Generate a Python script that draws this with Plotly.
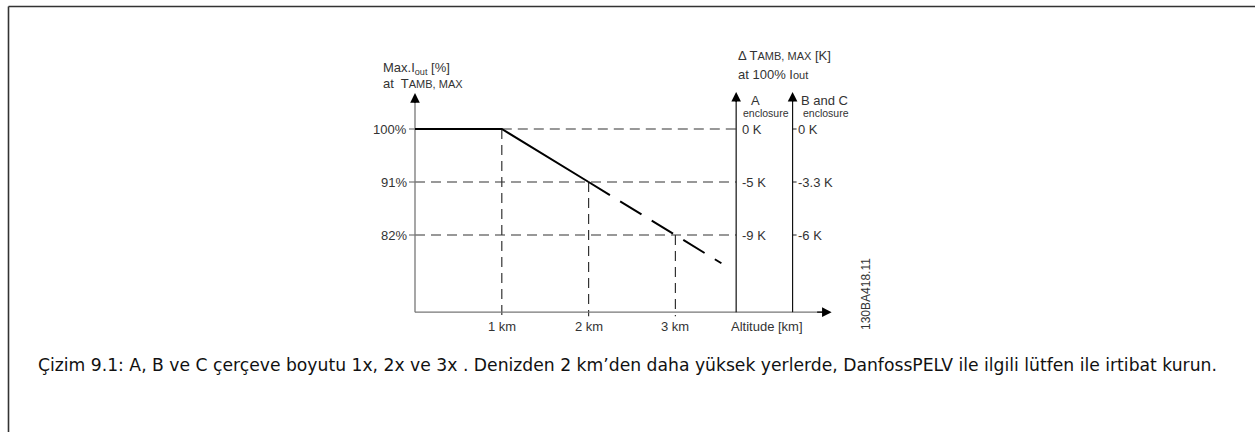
import plotly.graph_objects as go

# ---------------- data ----------------
derate_alt_solid = [0, 1, 2]
derate_pct_solid = [100, 100, 91]
derate_alt_dashed = [2, 3, 3.53]
derate_pct_dashed = [91, 82, 77.2]

ref_alt = [1, 2, 3]
ref_pct = [100, 91, 82]

y_tick_labels = ["100%", "91%", "82%"]
x_tick_labels = ["1 km", "2 km", "3 km"]
enc_A_labels = ["0 K", "-5 K", "-9 K"]
enc_BC_labels = ["0 K", "-3.3 K", "-6 K"]

axis_A_alt = 3.7
axis_BC_alt = 4.35
x_axis_end = 4.8
y_axis_bottom = 68.9
y_axis_top = 106.1
side_axis_top = 106.3

caption = ("Çizim 9.1: A, B ve C çerçeve boyutu 1x, 2x ve 3x . Denizden 2 km’den daha yüksek "
           "yerlerde, DanfossPELV ile ilgili lütfen ile irtibat kurun.")

# ---------------- geometry (pixel scale) ----------------
W, H = 1255, 432
PX_PER_KM = 86.8
X0_PX = 415
PX_PER_PCT = 53 / 9
Y100_PX = 129

def kx(px):
    return px / PX_PER_KM

def py(px):
    return px / PX_PER_PCT

def P(px, pyy):
    return px / W, 1 - pyy / H

x_range = [-X0_PX / PX_PER_KM, (W - X0_PX) / PX_PER_KM]
y_range = [100 - (H - Y100_PX) / PX_PER_PCT, 100 + Y100_PX / PX_PER_PCT]

FONT = "Liberation Sans, Arial, sans-serif"
TXT = "#333333"
GUIDE = "#333333"
AXIS = "#777777"
FS = 13

fig = go.Figure()

def seg(xs, ys, color, width, dash="solid"):
    fig.add_trace(go.Scatter(x=xs, y=ys, mode="lines", hoverinfo="skip",
                             line=dict(color=color, width=width, dash=dash),
                             showlegend=False))

# guide dashed lines
for i, (a, p) in enumerate(zip(ref_alt, ref_pct)):
    x_start = a if i == 0 else 0
    seg([x_start, axis_A_alt], [p, p], GUIDE, 1.2, "10px,6px")
    seg([a, a], [p, y_axis_bottom - py(4)], GUIDE, 1.2, "10px,6px")
    # small tick left of y-axis
    seg([-kx(6), 0], [p, p], AXIS, 1.2)
    # small tick right of B/C axis
    seg([axis_BC_alt, axis_BC_alt + kx(4)], [p, p], "#222222", 1.0)

# main axes
seg([0, 0], [y_axis_bottom, y_axis_top - py(6)], AXIS, 1.3)
seg([0, x_axis_end - kx(6)], [y_axis_bottom, y_axis_bottom], AXIS, 1.3)
seg([axis_A_alt, axis_A_alt], [y_axis_bottom, side_axis_top - py(6)], "#111111", 1.2)
seg([axis_BC_alt, axis_BC_alt], [y_axis_bottom, side_axis_top - py(6)], "#111111", 1.2)

# derating curve
seg(derate_alt_solid, derate_pct_solid, "#000000", 2)
seg(derate_alt_dashed, derate_pct_dashed, "#000000", 2, "25px,12px")

annotations = []

def arrow(x, y, ax, ay):
    annotations.append(dict(x=x, y=y, ax=ax, ay=ay, xref="x", yref="y", axref="x", ayref="y",
                            text=" ", showarrow=True, arrowhead=2, arrowsize=1.6,
                            arrowwidth=1.2, arrowcolor="#000000", standoff=0,
                            font=dict(size=1)))

arrow(0, y_axis_top, 0, y_axis_top - py(12))
arrow(axis_A_alt, side_axis_top, axis_A_alt, side_axis_top - py(12))
arrow(axis_BC_alt, side_axis_top, axis_BC_alt, side_axis_top - py(12))
arrow(x_axis_end, y_axis_bottom, x_axis_end - kx(16), y_axis_bottom)

def txt(text, x, y, size=FS, xanchor="left", yanchor="middle", xref="x", yref="y",
        xshift=0, yshift=0, angle=0, family=FONT, color=TXT):
    annotations.append(dict(text=text, x=x, y=y, xref=xref, yref=yref, xanchor=xanchor,
                            yanchor=yanchor, xshift=xshift, yshift=yshift, showarrow=False,
                            textangle=angle, font=dict(family=family, size=size, color=color)))

for lab, p in zip(y_tick_labels, ref_pct):
    txt(lab, 0, p, xanchor="right", xshift=-6)
for lab, a in zip(x_tick_labels, ref_alt):
    txt(lab, a, y_axis_bottom, xanchor="center", yanchor="top", yshift=-5)
txt("Altitude [km]", kx(767 - X0_PX), y_axis_bottom, xanchor="center", yanchor="top", yshift=-5)
for lab, p in zip(enc_A_labels, ref_pct):
    txt(lab, axis_A_alt, p, xshift=4)
for lab, p in zip(enc_BC_labels, ref_pct):
    txt(lab, axis_BC_alt, p, xshift=3)

def ptxt(text, px, pyy, size=FS, xanchor="left", angle=0, family=FONT, color=TXT):
    xp, yp = P(px, pyy)
    txt(text, xp, yp, size=size, xanchor=xanchor, xref="paper", yref="paper",
        angle=angle, family=family, color=color)

small = "<span style='font-size:11px'>"
ptxt("Max.I<sub>out</sub> [%]", 381, 68)
ptxt("at  T" + small + "AMB, MAX</span>", 381, 84)
ptxt("Δ T" + small + "AMB, MAX</span> [K]", 736, 55)
ptxt("at 100% I" + small + "out</span>", 736, 74)
ptxt("A", 749, 100)
ptxt("enclosure", 741, 113, size=10.5)
ptxt("B and C", 799, 100)
ptxt("enclosure", 801, 113, size=10.5)
ptxt("130BA418.11", 866, 294, size=12, xanchor="center", angle=-90)
ptxt(caption, 36, 365, size=17.2, family="DejaVu Sans, Verdana, sans-serif",
     color="#111111")

# frame lines (top and left)
shapes = [
    dict(type="line", xref="paper", yref="paper", x0=8.5 / W, x1=1, y0=1 - 6.5 / H, y1=1 - 6.5 / H,
         line=dict(color="#333333", width=1.6)),
    dict(type="line", xref="paper", yref="paper", x0=8.5 / W, x1=8.5 / W, y0=0, y1=1 - 6.5 / H,
         line=dict(color="#333333", width=1.6)),
]

fig.update_layout(
    width=W, height=H, autosize=False,
    margin=dict(l=0, r=0, t=0, b=0, pad=0),
    paper_bgcolor="white", plot_bgcolor="white",
    xaxis=dict(range=x_range, visible=False, fixedrange=True),
    yaxis=dict(range=y_range, visible=False, fixedrange=True),
    annotations=annotations, shapes=shapes, showlegend=False,
)

fig.write_html("out.html", post_script="document.body.style.margin='0';",
               config={"displayModeBar": False})
